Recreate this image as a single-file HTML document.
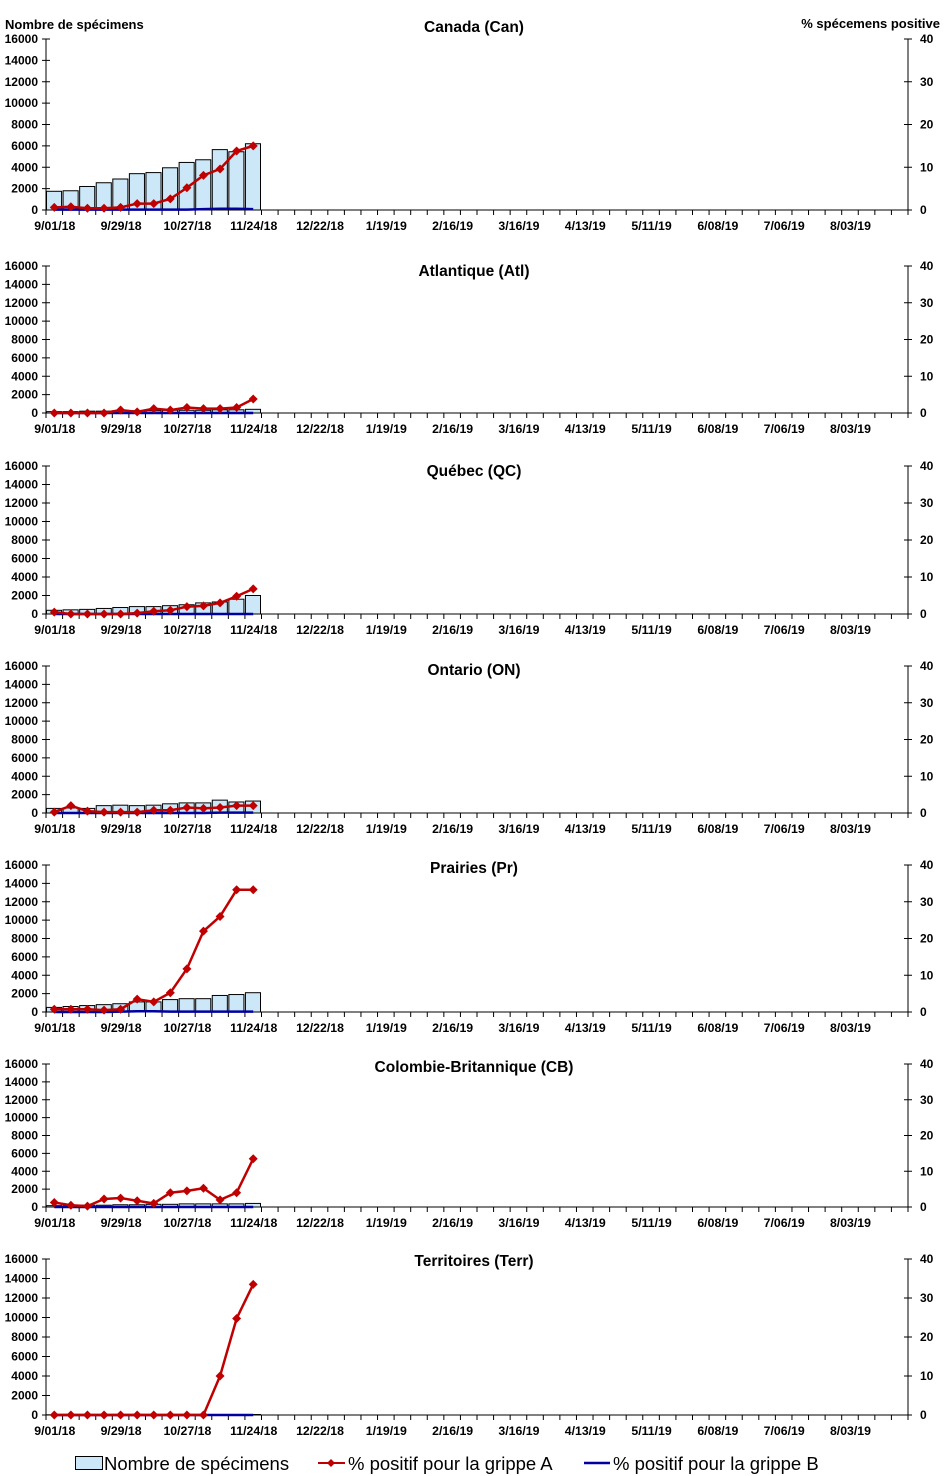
<!DOCTYPE html>
<html><head><meta charset="utf-8"><style>
body{margin:0;background:#fff;}
svg{display:block;font-family:"Liberation Sans",Arial,sans-serif;}
</style></head><body>
<svg id="c" width="946" height="1476" viewBox="0 0 946 1476"></svg>
<script>
const weekLabels=["9/01/18","9/29/18","10/27/18","11/24/18","12/22/18","1/19/19","2/16/19","3/16/19","4/13/19","5/11/19","6/08/19","7/06/19","8/03/19"];
const leftTicks=[0,2000,4000,6000,8000,10000,12000,14000,16000];
const rightTicks=[0,10,20,30,40];
const titles=["Canada (Can)","Atlantique (Atl)","Québec (QC)","Ontario (ON)","Prairies (Pr)","Colombie-Britannique (CB)","Territoires (Terr)"];
const specimens=[
[1750,1800,2200,2550,2900,3400,3500,3950,4450,4700,5650,5450,6200],
[150,150,200,200,250,250,250,300,300,300,350,350,400],
[400,450,500,600,700,800,800,900,1000,1200,1300,1600,2000],
[500,550,500,800,850,800,850,1000,1100,1100,1400,1200,1300],
[500,600,700,800,900,1100,1100,1350,1450,1450,1800,1900,2100],
[150,150,200,200,250,250,300,300,350,350,350,350,400],
[20,20,20,20,20,30,30,30,30,30,40,40,50]];
const pctA=[
[0.6,0.75,0.4,0.4,0.6,1.5,1.5,2.6,5.2,8.1,9.6,13.8,15],
[0,0,0,0,0.8,0.3,1.2,0.8,1.5,1.2,1.2,1.5,3.8],
[0.5,0,0,0,0,0.25,0.75,1,2,2.2,3,4.8,6.8],
[0.25,2,0.5,0.25,0.25,0.25,0.75,0.75,1.5,1.25,1.5,2,2],
[0.75,0.75,0.75,0.5,0.75,3.5,2.75,5.25,11.75,22,26,33.25,33.25],
[1.25,0.5,0.25,2.25,2.5,1.75,1,4,4.5,5.25,2,4,13.5],
[0,0,0,0,0,0,0,0,0,0,10,24.75,33.5]];
const pctB=[
[0.1,0.1,0.1,0.1,0.1,0.1,0.1,0.1,0.1,0.2,0.3,0.3,0.2],
[0,0,0,0,0,0,0,0,0,0,0,0,0],
[0,0,0,0,0,0,0,0,0,0,0,0,0],
[0,0,0,0,0,0,0,0,0,0,0.1,0.1,0.1],
[0,0,0,0,0.1,0.2,0.2,0.1,0.1,0.1,0.1,0.1,0.1],
[0,0,0,0,0,0,0,0,0,0,0,0,0],
[0,0,0,0,0,0,0,0,0,0,0,0,0]];
const NS="http://www.w3.org/2000/svg";
const svg=document.getElementById('c');
function mk(t,a,p){const e=document.createElementNS(NS,t);for(const k in a)e.setAttribute(k,a[k]);(p||svg).appendChild(e);return e;}
const panels=[[39,210,226,26],[266,413,429,270],[466,614,630,470],[666,813,829,669],[865,1012,1028,867],[1064,1207,1223,1066],[1259,1415,1431,1260]];
const X0=46,X1=908,NW=52,WW=(X1-X0)/NW;
const xc=i=>X0+WW*(i+0.5);
panels.forEach((p,pi)=>{
  const [top,bot,ly,ty]=p;
  const g=mk('g',{});
  
  
  const yL=v=>bot-(v/16000)*(bot-top);
  const yR=v=>bot-(v/40)*(bot-top);
  const t=mk('text',{x:474,y:ty+6,'text-anchor':'middle','font-size':15.5,'font-weight':'bold'},g);t.textContent=titles[pi];
  
  specimens[pi].forEach((v,i)=>{
    const r=mk('rect',{x:X0+WW*i+0.5,y:yL(v),width:WW-1.5,height:bot-yL(v),fill:'#cce8f8',stroke:'#000','stroke-width':1},g);
    
  });
  mk('line',{x1:X0,y1:top,x2:X0,y2:bot,stroke:'#000'},g);
  mk('line',{x1:X1,y1:top,x2:X1,y2:bot,stroke:'#000'},g);
  mk('line',{x1:X0,y1:bot,x2:X1,y2:bot,stroke:'#000'},g);
  leftTicks.forEach(v=>{const y=yL(v);mk('line',{x1:X0-4,y1:y,x2:X0+4,y2:y,stroke:'#000'},g);
    const tx=mk('text',{x:38,y:y+4,'text-anchor':'end','font-size':12,'font-weight':'bold'},g);tx.textContent=v;});
  rightTicks.forEach(v=>{const y=yR(v);mk('line',{x1:X1-4,y1:y,x2:X1+4,y2:y,stroke:'#000'},g);
    const tx=mk('text',{x:920,y:y+4,'font-size':12,'font-weight':'bold'},g);tx.textContent=v;});
  for(let i=0;i<=NW;i++){const x=X0+WW*i;mk('line',{x1:x,y1:bot,x2:x,y2:bot+5,stroke:'#000'},g);}
  weekLabels.forEach((l,i)=>{const tx=mk('text',{x:xc(i*4)+0.5,y:ly+4,'text-anchor':'middle','font-size':12.3,'font-weight':'bold'},g);tx.textContent=l;});
  const pb=mk('polyline',{points:pctB[pi].map((v,i)=>xc(i)+','+yR(v)).join(' '),fill:'none',stroke:'#0000a0','stroke-width':2.5},g);
  
  const pa=mk('polyline',{points:pctA[pi].map((v,i)=>xc(i)+','+yR(v)).join(' '),fill:'none',stroke:'#c00000','stroke-width':2.5},g);
  
  pctA[pi].forEach((v,i)=>{const x=xc(i),y=yR(v);
    const m=mk('path',{d:`M${x} ${y-4.5}L${x+4.5} ${y}L${x} ${y+4.5}L${x-4.5} ${y}Z`,fill:'#c00000'},g);
    });
});
</script>
<svg style="position:absolute;left:0;top:0" width="946" height="1476">
<text x="5" y="29" font-size="13" font-weight="bold" font-family="Liberation Sans,Arial,sans-serif">Nombre de spécimens</text>
<text x="940" y="28" font-size="13" font-weight="bold" text-anchor="end" font-family="Liberation Sans,Arial,sans-serif">% spécemens positive</text>
<g font-family="Liberation Sans,Arial,sans-serif" font-size="18.5">
<rect x="75.5" y="1456.5" width="27" height="13" fill="#cce8f8" stroke="#000"/>
<text x="104" y="1470">Nombre de spécimens</text>
<line x1="318" y1="1463" x2="345" y2="1463" stroke="#c00000" stroke-width="2"/>
<path d="M331 1459L335 1463L331 1467L327 1463Z" fill="#c00000"/>
<text x="348" y="1470">% positif pour la grippe A</text>
<line x1="584" y1="1463" x2="610" y2="1463" stroke="#0000a0" stroke-width="2.5"/>
<text x="613" y="1470">% positif pour la grippe B</text>
</g>
</svg>
</body></html>
